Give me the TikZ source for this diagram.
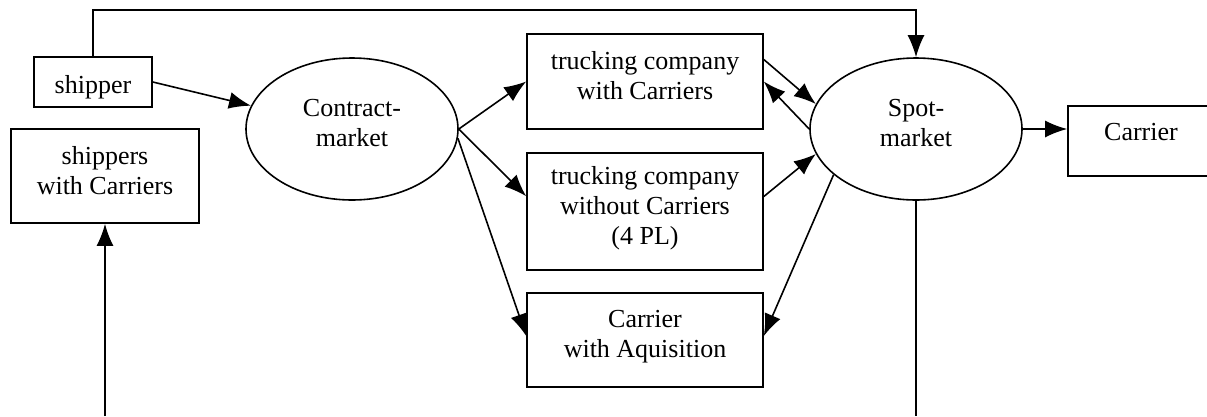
\documentclass[tikz,border=0pt]{standalone}
\usepackage{fontspec}
\setmainfont{Liberation Serif}
\usetikzlibrary{shapes.geometric,calc,arrows.meta}
\newcommand{\bw}{236pt}

\begin{document}
\begin{tikzpicture}[x=1pt,y=-1pt,
  font=\fontsize{26}{30}\selectfont,
  box/.style={draw,line width=1.6pt,rectangle,align=center,inner sep=0pt,text depth=12pt},
  mkt/.style={draw,line width=1.6pt,ellipse,align=center,inner sep=0pt,
    minimum width=212pt,minimum height=142pt,text depth=13pt},
  arr/.style={line width=1.6pt,-{Latex[length=22pt,width=17pt]}}]
\clip (0,0) rectangle (1207,416);
\coordinate (top) at (0,10);
\coordinate (bot) at (0,416);
\node[box,minimum width=118pt,minimum height=50pt,text height=22pt,text depth=0pt] (shipper) at (93,82) {shipper};
\node[box,minimum width=188pt,minimum height=94pt] (shipcar) at (105,176) {shippers\\with Carriers};
\node[mkt] (contract) at (352,129) {Contract-\\market};
\node[box,minimum width=\bw,minimum height=95pt] (truckA) at (645,81.5) {trucking company\\with Carriers};
\node[box,minimum width=\bw,minimum height=117pt] (truckB) at (645,211.5) {trucking company\\without Carriers\\(4 PL)};
\node[box,minimum width=\bw,minimum height=94pt] (carrAq) at (645,340) {Carrier\\with Aquisition};
\node[mkt] (spot) at (916,129) {Spot-\\market};
\node[box,minimum width=146pt,minimum height=70pt,text depth=18pt] (carrier) at (1141,141) {Carrier};
\draw[arr] (shipper.north) -- (shipper.north |- top) -| (spot.north);
\draw[arr] (shipper.east) -- (contract.167);
\draw[arr] (contract.east) -- (truckA.west);
\draw[arr] (contract.east) -- ([yshift=-44pt]truckB.north west);
\draw[arr] (contract.-5) -- ([yshift=4pt]carrAq.west);
\draw[arr] ([yshift=22pt]truckA.east) -- (spot.166);
\draw[arr] (spot.west) -- (truckA.east);
\draw[arr] ([yshift=15pt]truckB.east) -- (spot.194);
\draw[arr] (spot.209) -- ([yshift=4pt]carrAq.east);
\draw[arr] (spot.east) -- (spot.east -| carrier.west);
\draw[line width=1.6pt] (spot.south) -- (spot.south |- bot);
\draw[arr] (shipcar.south |- bot) -- (shipcar.south);
\end{tikzpicture}
\end{document}
